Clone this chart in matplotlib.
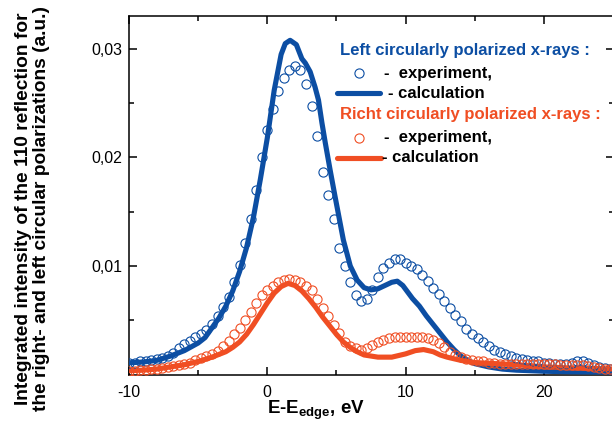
import numpy as np
import matplotlib
matplotlib.use('Agg')
import matplotlib.pyplot as plt
from matplotlib.ticker import FixedLocator, FuncFormatter

# calculated curves (energy in eV relative to the edge)
calc_blue_e = [-10, -9, -8, -7, -6, -5, -4.5, -4, -3.5, -3, -2.5, -2, -1.5, -1, -0.5,
               0, 0.5, 1.0, 1.3, 1.65, 2.1, 2.5, 2.75, 3.1, 3.45, 3.7, 3.95, 4.2, 4.55, 4.9,
               5.5, 6.0, 6.5, 7.0, 7.5, 8.0, 8.5, 9.0, 9.4, 9.8, 10.5, 11.0, 11.5, 12.0,
               12.5, 13.0, 13.5, 14.0, 14.5, 15.0, 16, 17, 18, 20, 22, 25.5]
calc_blue_i = [0.00108, 0.00115, 0.0013, 0.0017, 0.0022, 0.0029, 0.0034, 0.0043, 0.0052,
               0.0063, 0.0077, 0.0095, 0.0117, 0.0145, 0.0180, 0.0218, 0.0262, 0.0295,
               0.0305, 0.0308, 0.0304, 0.0291, 0.0287, 0.0279, 0.0265, 0.0253, 0.0232,
               0.0213, 0.0188, 0.0164, 0.0124, 0.0100, 0.0087, 0.0080, 0.0078, 0.0079,
               0.0082, 0.0085, 0.0086, 0.0082, 0.0070, 0.0063, 0.0054, 0.0046, 0.0038,
               0.0030, 0.0023, 0.0017, 0.0013, 0.0010, 0.0007, 0.0005, 0.0004, 0.0003,
               0.00025, 0.0002]

calc_red_e = [-10, -9, -8, -7, -6, -5, -4, -3, -2.5, -2, -1.5, -1, -0.5, 0, 0.5, 1.0,
              1.5, 2.0, 2.5, 3.0, 3.5, 4.0, 4.5, 5.0, 5.5, 6.0, 6.5, 7.0, 8.0, 9.0, 10.0,
              10.7, 11.3, 12.0, 12.5, 13.0, 14.0, 15.0, 16.5, 18, 20, 22, 25.5]
calc_red_i = [0.00035, 0.0004, 0.0005, 0.0007, 0.0009, 0.0012, 0.0016, 0.0021, 0.0025,
              0.0030, 0.0037, 0.0046, 0.0056, 0.0066, 0.0075, 0.0081, 0.0084, 0.0082,
              0.0077, 0.0070, 0.0062, 0.0053, 0.0045, 0.0037, 0.0030, 0.0025, 0.0021,
              0.0018, 0.0016, 0.0016, 0.0019, 0.0022, 0.0023, 0.0021, 0.0018, 0.0016,
              0.0013, 0.0011, 0.0010, 0.0009, 0.0007, 0.0006, 0.0005]

# measured points, 0.4 eV step starting at -10 eV
exp_start, exp_step = -10.0, 0.4
exp_blue_i = [0.0011, 0.0011, 0.0012, 0.0012, 0.0013, 0.0014, 0.0015, 0.0017, 0.0020,
              0.0024, 0.0028, 0.0031, 0.0035, 0.0037, 0.0041, 0.0047, 0.0054, 0.0062,
              0.0071, 0.0085, 0.0101, 0.0121, 0.0143, 0.0170, 0.0200, 0.0225, 0.0245,
              0.0261, 0.0273, 0.0281, 0.0284, 0.0281, 0.0268, 0.0247, 0.0220, 0.0187,
              0.0165, 0.0143, 0.0117, 0.0100, 0.0085, 0.0073, 0.0068, 0.0070, 0.0078,
              0.0090, 0.0098, 0.0103, 0.0106, 0.0106, 0.0103, 0.0100, 0.0097, 0.0092,
              0.0086, 0.0080, 0.0074, 0.0068, 0.0061, 0.0055, 0.0049, 0.0042, 0.0037,
              0.0034, 0.0030, 0.0026, 0.0023, 0.0021, 0.0019, 0.0017, 0.0015, 0.0014,
              0.0013, 0.0012, 0.0012, 0.0011, 0.0011, 0.0010, 0.0010, 0.0010, 0.0011,
              0.0012, 0.0012, 0.0011, 0.0009, 0.0007, 0.0006, 0.0005]
exp_red_i = [0.0003, 0.0003, 0.0004, 0.0004, 0.0005, 0.0005, 0.0006, 0.0007, 0.0008,
             0.0009, 0.0010, 0.0011, 0.0013, 0.0015, 0.0017, 0.0019, 0.0022, 0.0026,
             0.0031, 0.0037, 0.0043, 0.0050, 0.0058, 0.0066, 0.0073, 0.0078, 0.0082,
             0.0085, 0.0087, 0.0088, 0.0087, 0.0085, 0.0082, 0.0078, 0.0070, 0.0061,
             0.0054, 0.0046, 0.0038, 0.0030, 0.0026, 0.0024, 0.0023, 0.0024, 0.0027,
             0.0030, 0.0032, 0.0034, 0.0035, 0.0035, 0.0035, 0.0035, 0.0035, 0.0035,
             0.0034, 0.0032, 0.0029, 0.0025, 0.0021, 0.0018, 0.0016, 0.0014, 0.0013,
             0.0012, 0.0012, 0.0011, 0.0011, 0.0010, 0.0010, 0.0010, 0.0010, 0.0010,
             0.0010, 0.0010, 0.0010, 0.0010, 0.0010, 0.0010, 0.0009, 0.0009, 0.0009,
             0.0009, 0.0009, 0.0008, 0.0007, 0.0006, 0.0005, 0.0005]
exp_blue_e = exp_start + exp_step * np.arange(len(exp_blue_i))
exp_red_e = exp_start + exp_step * np.arange(len(exp_red_i))

x_major = [-10, 0, 10, 20]
x_minor = [-5, 5, 15, 25]
y_major = [0.01, 0.02, 0.03]
y_minor = [0.005, 0.015, 0.025]

BLUE = '#0c4ea3'
RED = '#f04e23'
NARROW = ['Liberation Sans Narrow', 'Liberation Sans']

plt.rcParams['font.family'] = ['Liberation Sans', 'DejaVu Sans']
plt.rcParams['mathtext.fontset'] = 'custom'
plt.rcParams['mathtext.rm'] = 'Liberation Sans:bold'
plt.rcParams['mathtext.bf'] = 'Liberation Sans:bold'

fig = plt.figure(figsize=(6.12, 4.25), dpi=100)
ax = fig.add_axes([129 / 612, 50.5 / 425, 485 / 612, 358.5 / 425])

ax.plot(calc_blue_e, calc_blue_i, color=BLUE, lw=3.7, solid_capstyle='round', zorder=3)
ax.plot(calc_red_e, calc_red_i, color=RED, lw=3.7, solid_capstyle='round', zorder=3)
ax.plot(exp_blue_e, exp_blue_i, 'o', mfc='none', mec=BLUE, ms=6.6, mew=0.8, zorder=4)
ax.plot(exp_red_e, exp_red_i, 'o', mfc='none', mec=RED, ms=6.6, mew=0.8, zorder=4)

ax.set_xlim(-10, 25.07)
ax.set_ylim(0, 0.03304)

ax.xaxis.set_major_locator(FixedLocator(x_major))
ax.xaxis.set_minor_locator(FixedLocator(x_minor))
ax.yaxis.set_major_locator(FixedLocator(y_major))
ax.yaxis.set_minor_locator(FixedLocator(y_minor))
ax.yaxis.set_major_formatter(FuncFormatter(lambda v, p: f'{v:.2f}'.replace('.', ',')))
ax.xaxis.set_major_formatter(FuncFormatter(lambda v, p: f'{v:g}'))

ax.tick_params(which='both', direction='in', top=True, right=True, width=1.1,
               labelsize=11.5)
ax.tick_params(axis='y', pad=5)
ax.tick_params(axis='x', pad=7.5)
ax.tick_params(which='major', length=5.5)
ax.tick_params(which='minor', length=3.5)
for s in ax.spines.values():
    s.set_linewidth(1.1)

ax.set_xlabel(r'E-E$_{\mathrm{edge}}$, eV', fontsize=13.5, fontweight='bold')
ax.xaxis.set_label_coords(0.386, -0.066)
ax.set_ylabel('Integrated intensity of the 110 reflection for\n'
              'the right- and left circular polarizations (a.u.)',
              family=NARROW, fontsize=13.8, fontweight='bold', linespacing=1.1)
ax.yaxis.set_label_coords(-0.163, 0.463)

# legend block, laid out by hand
tr = ax.transAxes
lg = dict(transform=tr, va='center', ha='left', fontsize=12, fontweight='bold',
          family=NARROW)
ax.text(0.435, 0.905, 'Left circularly polarized x-rays :', color=BLUE, **lg)
ax.plot([0.474], [0.841], 'o', mfc='none', mec=BLUE, ms=6.6, mew=0.8, transform=tr)
ax.text(0.526, 0.841, '-  experiment,', color='black', **lg)
ax.plot([0.429, 0.518], [0.785, 0.785], color=BLUE, lw=3.7, solid_capstyle='round',
        transform=tr)
ax.text(0.534, 0.785, '- calculation', color='black', **lg)
ax.text(0.435, 0.724, 'Richt circularly polarized x-rays :', color=RED, **lg)
ax.plot([0.474], [0.660], 'o', mfc='none', mec=RED, ms=6.6, mew=0.8, transform=tr)
ax.text(0.526, 0.660, '-  experiment,', color='black', **lg)
ax.plot([0.429, 0.520], [0.604, 0.604], color=RED, lw=3.7, solid_capstyle='round',
        transform=tr)
ax.text(0.522, 0.604, '- calculation', color='black', **lg)

fig.savefig('out.png', dpi=100)
